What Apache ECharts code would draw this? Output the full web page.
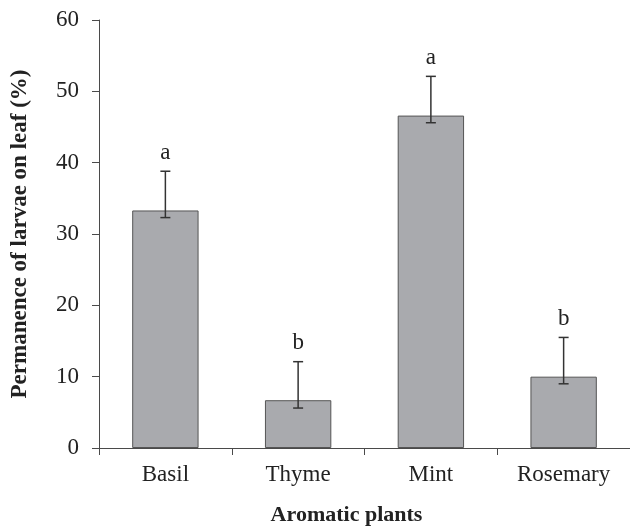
<!DOCTYPE html>
<html>
<head>
<meta charset="utf-8">
<script src="https://cdn.jsdelivr.net/npm/echarts@6/dist/echarts.min.js"></script>
<style>
html,body{margin:0;padding:0;background:#fff;}
#chart{width:630px;height:526px;}
</style>
</head>
<body>
<div id="chart"></div>
<script>
const categories = ['Basil', 'Thyme', 'Mint', 'Rosemary'];
const meanValues = [33.3, 6.7, 46.6, 10.0];
const errorLow = [32.3, 5.6, 45.6, 9.0];
const errorHigh = [38.8, 12.1, 52.1, 15.5];
const groupLetters = ['a', 'b', 'a', 'b'];
const yTicks = [0, 10, 20, 30, 40, 50, 60];

const serif = '"Liberation Serif", "Times New Roman", serif';
const axisColor = '#4a4a4a';

const errorData = categories.map((c, i) => [i, errorLow[i], errorHigh[i], groupLetters[i]]);

const chart = echarts.init(document.getElementById('chart'));
chart.setOption({
  animation: false,
  backgroundColor: '#ffffff',
  grid: { left: 99, right: 0, top: 20, bottom: 78, containLabel: false, outerBoundsMode: 'none' },
  xAxis: {
    type: 'category',
    data: categories,
    boundaryGap: true,
    axisLine: { lineStyle: { color: axisColor, width: 1 } },
    axisTick: { show: true, alignWithLabel: false, length: 7, lineStyle: { color: axisColor } },
    axisLabel: { color: '#222', fontFamily: serif, fontSize: 23, margin: 15 },
    name: 'Aromatic plants',
    nameLocation: 'middle',
    nameGap: 56,
    nameTextStyle: { fontFamily: serif, fontSize: 22, fontWeight: 'bold', color: '#222', padding: [0, 36, 0, 0] },
    splitLine: { show: false }
  },
  yAxis: {
    type: 'value',
    min: yTicks[0],
    max: yTicks[yTicks.length - 1],
    interval: 10,
    axisLine: { show: true, lineStyle: { color: axisColor, width: 1 } },
    axisTick: { show: true, inside: false, length: 7, lineStyle: { color: axisColor } },
    axisLabel: { color: '#222', fontFamily: serif, fontSize: 23, margin: 20 },
    splitLine: { show: false },
    name: 'Permanence of larvae on leaf (%)',
    nameLocation: 'middle',
    nameGap: 67,
    nameTextStyle: { fontFamily: serif, fontSize: 23, fontWeight: 'bold', color: '#222' }
  },
  series: [
    {
      type: 'bar',
      data: meanValues,
      barWidth: '50%',
      itemStyle: { color: '#a9aaae', borderColor: '#555555', borderWidth: 1 },
      z: 2
    },
    {
      type: 'custom',
      data: errorData,
      z: 5,
      renderItem: function (params, api) {
        const x = api.value(0);
        const lo = api.coord([x, api.value(1)]);
        const hi = api.coord([x, api.value(2)]);
        const half = 5;
        const style = { stroke: '#333333', lineWidth: 1.5 };
        return {
          type: 'group',
          children: [
            { type: 'line', shape: { x1: lo[0], y1: lo[1], x2: hi[0], y2: hi[1] }, style: style },
            { type: 'line', shape: { x1: hi[0] - half, y1: hi[1], x2: hi[0] + half, y2: hi[1] }, style: style },
            { type: 'line', shape: { x1: lo[0] - half, y1: lo[1], x2: lo[0] + half, y2: lo[1] }, style: style },
            { type: 'text', style: { text: api.value(3), x: hi[0], y: hi[1] - 7, textAlign: 'center', textVerticalAlign: 'bottom', fontFamily: serif, fontSize: 23, fill: '#222' } }
          ]
        };
      }
    }
  ]
});
</script>
</body>
</html>
